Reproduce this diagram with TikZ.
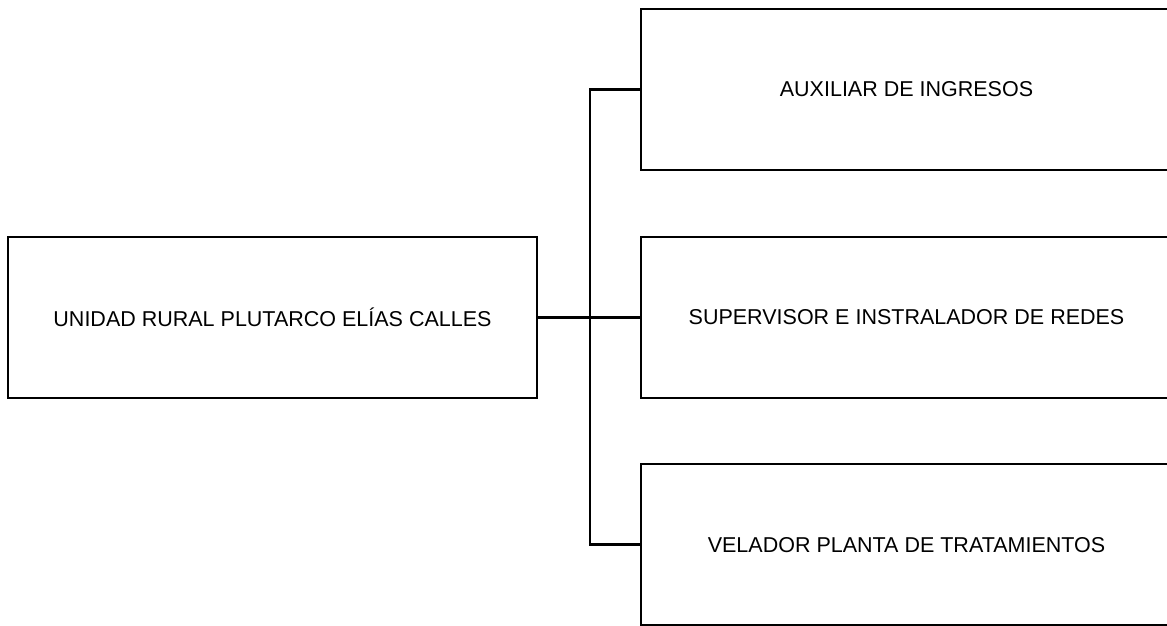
\documentclass[tikz,border=0pt]{standalone}
\usepackage{fontspec}
\setmainfont{Liberation Sans}
\begin{document}
\begin{tikzpicture}[x=1pt,y=-1pt,
  unitbox/.style={draw=black,line width=2.6pt,minimum height=161pt,inner sep=0pt,
    font=\fontsize{21.5pt}{25pt}\selectfont},
  link/.style={draw=black,line width=2.6pt}]
\useasboundingbox (0,0) rectangle (1167,625);
\begin{scope}
\clip (0,0) rectangle (1167,625);
\node[unitbox,minimum width=529pt] (root) at (272.5,317.5) {UNIDAD RURAL PLUTARCO ELÍAS CALLES};
\node[unitbox,minimum width=531pt] (aux) at (906.5,89.5) {AUXILIAR DE INGRESOS};
\node[unitbox,minimum width=531pt] (sup) at (906.5,317.5) {SUPERVISOR E INSTRALADOR DE REDES};
\node[unitbox,minimum width=531pt,minimum height=161.5pt] (vel) at (906.5,544.75) {VELADOR PLANTA DE TRATAMIENTOS};
\coordinate (trunk) at (590,317.5);
\draw[link] (root.east) -- (sup.west);
\draw[link] (aux.west) -- (aux.west -| trunk) -- (vel.west -| trunk) -- (vel.west);
\end{scope}
\end{tikzpicture}
\end{document}
